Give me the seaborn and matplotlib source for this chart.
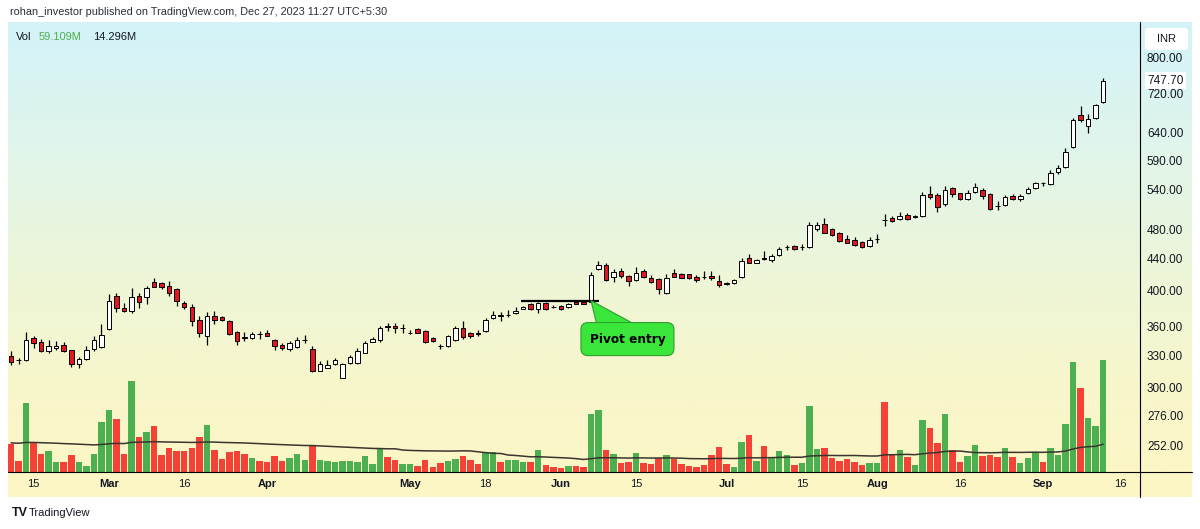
import numpy as np
import pandas as pd
import matplotlib
matplotlib.use("Agg")
import matplotlib.pyplot as plt
import matplotlib.transforms as mtransforms
from matplotlib.lines import Line2D
from matplotlib.patches import FancyBboxPatch, Polygon
from matplotlib.ticker import NullLocator
import seaborn as sns

# ---------------- data ----------------
opens = [329, 325.5, 325, 347, 343, 334, 337, 340, 335, 322, 326, 336, 338, 357, 394, 380, 376, 394, 392, 410,
         409, 406, 402, 386, 381, 367, 349, 371, 370, 366, 354, 348.5, 347, 352, 352.5, 345.4, 340.2, 336.3, 338.7, 345,
         336, 315.2, 318.1, 321.3, 308.8, 322.3, 322.3, 332.6, 343.5, 345.4, 360, 360, 357.5, 352.3, 357, 355, 347.2, 339.5, 339.4, 345.4,
         358.3, 352.3, 352.5, 355, 368.8, 371.7, 372, 374, 379, 384.2, 378.7, 386, 381.5, 382.3, 380.5, 387, 387, 387.2, 426.5, 432.4,
         417.2, 423.9, 418.1, 412.5, 423.9, 415, 413.8, 397.5, 421.3, 420.5, 420, 417.2, 417.2, 418, 412, 409.5, 408.8, 417.2, 440.3, 435,
         440.5, 438.5, 445.1, 455, 457, 455, 455, 480, 488, 480.3, 475.5, 466.6, 465.2, 462, 457.4, 466, 494, 496.5, 495.4, 501.4,
         498.5, 500, 533.6, 532, 518, 543.7, 534.7, 525.2, 536.8, 540, 533.2, 515.5, 516, 530.5, 525.2, 534.7, 542.7, 551, 549.3, 569,
         578.4, 613.1, 674.1, 652.7, 669.3, 701.9]
highs = [334, 327, 354, 349, 346, 345, 344, 343, 335.5, 328, 339, 349, 362, 396, 397, 386, 403, 397, 406, 415,
         410, 412, 403, 388, 384, 371, 375, 376, 371, 367, 354.5, 354, 354, 355, 356, 346.5, 341.9, 344.7, 348.2, 350.6,
         339.4, 324.9, 325.4, 327.1, 322.3, 330.3, 337, 344.7, 348.2, 360.5, 363, 363.7, 362.3, 356, 357.7, 356, 348.9, 341.5, 350.6, 360,
         365.7, 354, 356, 368.5, 376.7, 375, 377.8, 381.5, 382.3, 385.3, 387.2, 386.5, 383, 383.5, 385.3, 388.4, 388, 422.3, 437.2, 433.8,
         426.1, 427.4, 419.3, 429, 426.1, 419.3, 415, 420.4, 426.2, 421.3, 421, 419.3, 423.9, 424, 419.3, 410.3, 413.8, 440.3, 446, 440,
         450.5, 446.5, 455.3, 458.5, 458.5, 460, 491, 491, 496.5, 481.7, 476.9, 472.2, 469, 464.2, 469.8, 473.7, 502.7, 499, 506.4, 503.9,
         501.4, 537.3, 546.5, 534.7, 546.5, 545.4, 535.7, 539.6, 551, 542.7, 535.7, 523, 532, 533.6, 533.2, 544.3, 553.6, 553.6, 573.7, 580.8,
         611.2, 669.3, 692.5, 677.5, 698, 753.7]
lows = [321, 322, 324, 337, 333, 332, 335, 333, 319, 318, 325, 334, 337, 356, 375, 375, 374, 380, 385, 404,
        402, 394, 382, 379, 360, 348, 340, 362, 366, 351, 340, 344, 346.5, 346, 349, 335.3, 335.3, 334.6, 337, 342,
        314.3, 314.6, 317.5, 320.3, 308.2, 321.6, 321.6, 332, 343, 343.7, 354.5, 353, 352.3, 351.4, 352.3, 342.7, 343, 336.3, 338.7, 344.7,
        346.3, 347.3, 349.6, 354.2, 368, 365, 370.4, 373.3, 378.7, 378, 374, 378, 380, 378, 379.6, 384.2, 384, 386.5, 425.3, 411.7,
        411, 416, 405.7, 411.7, 415, 408.9, 395.6, 395.9, 416.3, 415, 414.5, 411, 413.8, 413, 404.9, 406.9, 408, 415, 433.8, 433.8,
        438.5, 436.3, 443.8, 452, 451, 451, 454, 478, 474.6, 470.8, 462.8, 460.6, 457, 453.9, 456, 461.5, 485.1, 491.3, 493.7, 493.7,
        496.5, 498.8, 525.2, 506.3, 514.9, 528.3, 524.1, 524.1, 535.7, 525.2, 508.8, 508.8, 514.9, 524.1, 523, 533.2, 541.1, 546.5, 548.2, 566.8,
        576.7, 611.2, 662.1, 640.1, 667.2, 700.5]
closes = [323, 325, 345, 342, 334, 339, 339, 334, 322, 326, 335, 345, 351, 388, 380, 376, 392, 387, 403, 405,
          404, 397, 388, 381, 365, 353, 371, 367, 367, 351.5, 344, 347.5, 351.5, 351.5, 349.6, 339.6, 337, 341.9, 345.4, 345.4,
          315.2, 321.6, 320.6, 325.4, 321.6, 328, 334.6, 341.9, 346.5, 358.3, 359.5, 357.7, 358, 352.5, 353, 343.7, 344.4, 339.4, 349.6, 357.7,
          348.2, 349.6, 352, 366.8, 372.2, 371.5, 372.3, 377, 381.5, 378.7, 386, 378.7, 381.3, 378.7, 384.5, 384.5, 384.5, 419.3, 432.4, 412.5,
          422.6, 418.1, 412, 421.3, 417.2, 410, 401.7, 415, 417.2, 415.9, 415, 413, 416.5, 415, 406.5, 407.7, 413, 437.2, 435, 438.5,
          440.2, 443.8, 452.6, 455.3, 452.6, 455.5, 486, 486, 475.5, 472.2, 464.2, 461.5, 458.4, 456, 465.2, 466.5, 493.5, 492.7, 499.9, 494.8,
          499, 532, 528.3, 513.8, 539.6, 533.2, 525.2, 534.7, 545.4, 530.5, 510.3, 515, 528.3, 525.2, 530.9, 541.6, 551, 550.5, 568, 576.7,
          605, 666, 665.3, 666.6, 694.6, 747.7]
volumes = [14.9, 5.9, 36.3, 15.3, 9.5, 10.9, 5.3, 5.3, 8.8, 5.3, 3.3, 9.6, 26.2, 32.8, 27.9, 9.5, 47.7, 18.4, 21.2, 24.1,
           8.9, 12.5, 10.9, 11.2, 12.5, 18.4, 24.6, 11.7, 7.0, 10.7, 11.2, 9.5, 7.4, 5.6, 5.3, 8.4, 5.6, 7.4, 9.6, 6.5,
           14.1, 6.5, 5.9, 5.1, 5.9, 5.9, 5.1, 8.3, 4.2, 12.1, 7.9, 6.5, 4.2, 4.2, 3.3, 6.5, 2.6, 4.7, 5.6, 7.0,
           8.6, 6.2, 4.2, 10.5, 10.5, 5.1, 6.5, 6.5, 5.1, 5.1, 11.7, 3.7, 2.8, 2.3, 3.3, 3.3, 2.4, 30.7, 32.6, 11.7,
           9.5, 4.7, 5.3, 10.0, 4.7, 4.2, 7.4, 8.9, 6.7, 4.2, 3.2, 2.8, 3.8, 8.9, 13.2, 4.2, 2.8, 15.9, 19.3, 5.6,
           13.7, 7.5, 10.9, 8.9, 3.7, 4.7, 34.9, 12.3, 12.8, 7.2, 5.6, 7.0, 5.1, 3.7, 4.6, 4.6, 36.8, 9.1, 11.7, 7.7,
           3.8, 27.5, 23.2, 15.3, 30.7, 11.7, 5.3, 8.6, 14.2, 8.6, 9.1, 7.7, 12.8, 7.7, 4.7, 7.2, 10.5, 5.3, 12.8, 8.8,
           25.4, 57.7, 44.2, 28.3, 24.1, 59.109]
vol_ma_len = 50
vol_ma_start = 15.3          # volume MA level at the first visible bar (millions)

price_ticks = [252, 276, 300, 330, 360, 400, 440, 480, 540, 590, 640, 720, 800]
x_tick_pos = [3, 13, 23, 34, 53, 63, 73, 83, 95, 105, 115, 126, 137, 147.3]
x_tick_labels = ["15", "Mar", "16", "Apr", "May", "18", "Jun", "15", "Jul", "15", "Aug", "16", "Sep", "16"]
month_labels = {"Mar", "Apr", "May", "Jun", "Jul", "Aug", "Sep"}

pivot_price = 388.4
pivot_x0, pivot_x1 = 67.7, 78.1
pivot_bar = 77
pivot_label = "Pivot entry"

title_text = "rohan_investor published on TradingView.com, Dec 27, 2023 11:27 UTC+5:30"
vol_label = "Vol"
vol_last_label = "59.109M"
vol_ma_label = "14.296M"
currency = "INR"

# ---------------- style ----------------
sns.set_style("white")
plt.rcParams['font.family'] = ['Liberation Sans', 'DejaVu Sans']

RED = '#e3161e'
VGREEN = '#4caf50'
VRED = '#f44336'
TXT = '#131722'
CALLOUT = '#3be63b'
CALLOUT_EDGE = '#2f9e2f'

o = np.array(opens, float); h = np.array(highs, float)
l = np.array(lows, float); c = np.array(closes, float)
v = np.array(volumes, float)
n = len(c)
idx = np.arange(n)
up = c >= o

W, H = 1200, 529
fig = plt.figure(figsize=(W / 100, H / 100), dpi=100)
fig.patch.set_facecolor('white')

def fx(px):
    return px / W

def fy(py):
    return 1 - py / H

# gradient background (pane + axes strips)
bg = fig.add_axes([fx(8), fy(497), fx(1192) - fx(8), fy(22) - fy(497)], zorder=0)
stops = np.array([[211, 243, 249], [224, 245, 236], [236, 246, 218], [247, 246, 204], [253, 246, 196]]) / 255.0
t = np.linspace(0, 1, 300)
sp = np.linspace(0, 1, len(stops))
grad = np.stack([np.interp(t, sp, stops[:, k]) for k in range(3)], axis=-1)[:, None, :]
bg.imshow(grad, aspect='auto', extent=[0, 1, 0, 1], interpolation='bilinear')
bg.axis('off')

rect = [fx(8), fy(472), fx(1140) - fx(8), fy(22) - fy(472)]
axv = fig.add_axes(rect, zorder=1)
ax = fig.add_axes(rect, zorder=2, sharex=axv)
for a in (ax, axv):
    a.set_facecolor('none')
    for s in a.spines.values():
        s.set_visible(False)

# ---------------- volume ----------------
vdf = pd.DataFrame({'idx': idx, 'vol': v, 'dir': np.where(up, 'up', 'down')})
sns.barplot(data=vdf, x='idx', y='vol', hue='dir', palette={'up': VGREEN, 'down': VRED},
            native_scale=True, width=0.86, dodge=False, saturation=1, legend=False,
            errorbar=None, linewidth=0, ax=axv)
ext = np.concatenate([np.full(vol_ma_len - 1, vol_ma_start), v])
vma = pd.Series(ext).rolling(vol_ma_len).mean().to_numpy()[vol_ma_len - 1:]
sns.lineplot(x=idx, y=vma, ax=axv, color='#3b3530', linewidth=1.1)
axv.set_ylim(0, v.max() * 4.0)
axv.set_yticks([])
axv.set_xlabel('')
axv.set_ylabel('')
axv.tick_params(bottom=False, labelbottom=False, left=False, labelleft=False)

# ---------------- candles ----------------
ax.set_yscale('log')
ax.vlines(idx, l, h, color='black', linewidth=0.9, zorder=3)
lo_b = np.minimum(o, c)
hi_b = np.maximum(o, c)
ax.bar(idx, hi_b - lo_b, bottom=lo_b, width=0.6, color=np.where(up, 'white', RED),
       edgecolor='black', linewidth=0.7, zorder=4)

ax.set_xlim(-0.4, 149.9)
ax.set_ylim(233.1, 890.5)

# pivot line + callout
ax.hlines(pivot_price, pivot_x0, pivot_x1, colors='black', linewidth=1.6, zorder=5)
tip = ax.transData.transform((pivot_bar, pivot_price))
wedge = Polygon([tip, tip + np.array([5.5, -22.5]), tip + np.array([41.5, -22.5])], closed=True,
                transform=mtransforms.IdentityTransform(), fc=CALLOUT, ec=CALLOUT_EDGE, lw=0.8, zorder=6)
fig.add_artist(wedge)
box_center = tip + np.array([36.5, -38.5])
fig.add_artist(FancyBboxPatch((box_center[0] - 46.5, box_center[1] - 16.5), 93, 33,
                              boxstyle='round,pad=0,rounding_size=7',
                              transform=mtransforms.IdentityTransform(), fc=CALLOUT, ec=CALLOUT_EDGE,
                              lw=0.8, zorder=7))
fig.add_artist(Polygon([tip + np.array([6.6, -22.0]), tip + np.array([40.5, -22.0]),
                        tip + np.array([40.5, -23.5]), tip + np.array([6.6, -23.5])], closed=True,
                       transform=mtransforms.IdentityTransform(), fc=CALLOUT, ec='none', zorder=8))
fig.text(box_center[0] / W, box_center[1] / H, pivot_label, ha='center', va='center',
         fontsize=8.7, fontweight='bold', color='black', family=['DejaVu Sans'], zorder=9)

ax.yaxis.set_minor_locator(NullLocator())
ax.set_yticks(price_ticks)
ax.set_yticklabels([f"{p:.2f}" for p in price_ticks])
ax.yaxis.tick_right()
ax.tick_params(axis='y', length=0, pad=5, labelsize=8.5, labelcolor=TXT)
ax.set_xticks(x_tick_pos)
ax.set_xticklabels(x_tick_labels)
ax.tick_params(axis='x', length=0, pad=5, labelsize=8, labelcolor=TXT)
for lab in ax.get_xticklabels():
    if lab.get_text() in month_labels:
        lab.set_fontweight('bold')

# last price marker
trans = mtransforms.blended_transform_factory(ax.transAxes, ax.transData)
ax.annotate(f"{c[-1]:.2f}", xy=(1.0, c[-1]), xycoords=trans, xytext=(5, 0), textcoords='offset points',
            ha='left', va='center', fontsize=8.5, color=TXT, annotation_clip=False,
            bbox=dict(boxstyle='square,pad=0.2', fc='white', ec='none'), zorder=7)

# frame lines
fig.add_artist(Line2D([fx(1140), fx(1140)], [fy(22), fy(497)], color='black', lw=0.8,
                      transform=fig.transFigure, zorder=10))
fig.add_artist(Line2D([fx(8), fx(1192)], [fy(472), fy(472)], color='black', lw=0.8,
                      transform=fig.transFigure, zorder=10))

# currency box
fig.add_artist(FancyBboxPatch((1145, H - 50), 43, 22, boxstyle='round,pad=0,rounding_size=3',
                              transform=mtransforms.IdentityTransform(), fc='white', ec='none', zorder=11))
fig.text(fx(1166.5), fy(39), currency, ha='center', va='center', fontsize=8, color=TXT, zorder=12)

# header texts
fig.text(fx(10), fy(12), title_text, ha='left', va='center', fontsize=7.8, color='#2a2e39')
fig.text(fx(16), fy(37), vol_label, ha='left', va='center', fontsize=8, color=TXT)
fig.text(fx(39), fy(37), vol_last_label, ha='left', va='center', fontsize=8, color='#4caf50')
fig.text(fx(93), fy(37), vol_ma_label, ha='left', va='center', fontsize=8, color=TXT)

# footer
fig.text(fx(12), fy(513), "TV", ha='left', va='center', fontsize=9, fontweight='bold', color=TXT)
fig.text(fx(29), fy(513), "TradingView", ha='left', va='center', fontsize=8, color=TXT)

fig.savefig('out.png', dpi=100, facecolor='white')
